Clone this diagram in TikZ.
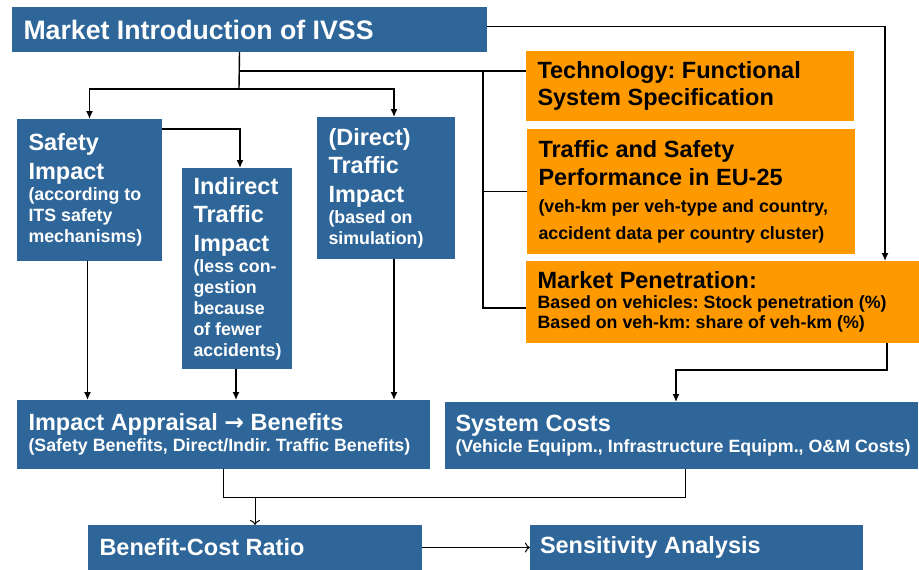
\documentclass[tikz,border=0pt]{standalone}
\usepackage{fontspec}
\setmainfont{Liberation Sans}
\newfontfamily\dejavu{DejaVu Sans}
\usetikzlibrary{arrows.meta}
\definecolor{boxblue}{HTML}{2E6699}
\definecolor{boxorange}{HTML}{FF9900}
\frenchspacing
\hyphenpenalty=10000
\exhyphenpenalty=10000
\newcommand\bigfs{\fontsize{23.5}{28.5}\selectfont}
\newcommand\smallfs{\fontsize{17.8}{21}\selectfont}
\newcommand\subtxt[1]{\par{\smallfs #1\par}}
\begin{document}
\begin{tikzpicture}[x=1pt,y=-1pt,
  box/.style={anchor=north west, inner xsep=11.5pt, inner ysep=0pt, align=flush left,
              font=\bfseries\bigfs, outer sep=0pt},
  bluebox/.style={box, fill=boxblue, text=white},
  orangebox/.style={box, fill=boxorange, text=black},
  conn/.style={line width=1.4pt, black},
  arr/.style={conn, -{Latex[length=8pt,width=7pt]}},
  oarr/.style={line width=1pt, black, -{To[length=5pt,width=10pt]}}
]
\useasboundingbox (0,0) rectangle (919,570);

% blue boxes
\node[bluebox, text width=452pt, minimum height=45pt, font=\bfseries\fontsize{26.7}{30}\selectfont] (intro) at (12,7) {Market Introduction of IVSS};
\node[bluebox, text width=122pt, minimum height=142pt] (safety) at (17,119)
  {Safety\\Impact\subtxt{(according to\\ITS safety\\mechanisms)}};
\node[bluebox, text width=87pt, minimum height=201pt] (indirect) at (182,168)
  {Indirect\\Traffic\\Impact\subtxt{(less con-\\gestion\\because\\of fewer\\accidents)}};
\node[bluebox, text width=115pt, minimum height=142pt] (direct) at (317,117)
  {(Direct)\\Traffic\\Impact\subtxt{(based on\\simulation)}};

% orange boxes
\node[orangebox, text width=305pt, minimum height=70pt, font=\bfseries\fontsize{23.5}{27}\selectfont] (tech) at (526,51)
  {Technology: Functional\\System Specification};
\node[orangebox, text width=305pt, minimum height=125pt, font=\bfseries\fontsize{23.5}{28}\selectfont] (traffic) at (527,129)
  {Traffic and Safety\\Performance in EU-25\par{\fontsize{17.8}{27}\selectfont (veh-km per veh-type and country,\\accident data per country cluster)\par}};
\node[orangebox, text width=370pt, minimum height=82pt] (penet) at (526,261)
  {Market Penetration:\par{\fontsize{17.8}{20}\selectfont Based on vehicles: Stock penetration (\%)\\Based on veh-km: share of veh-km (\%)\par}};

% bottom boxes
\node[bluebox, text width=390pt, minimum height=69pt] (impact) at (17,400)
  {Impact Appraisal {\dejavu\bfseries →} Benefits\subtxt{(Safety Benefits, Direct/Indir. Traffic Benefits)}};
\node[bluebox, text width=452pt, minimum height=67pt, inner xsep=10.5pt] (costs) at (445,402)
  {System Costs\subtxt{\mbox{(Vehicle Equipm., Infrastructure Equipm., O\&M Costs)}}};
\node[bluebox, text width=311pt, minimum height=45pt] (bcr) at (88,525) {Benefit-Cost Ratio};
\node[bluebox, text width=313pt, minimum height=45pt, inner xsep=10pt] (sens) at (530,525) {Sensitivity Analysis};

% junctions
\coordinate (j1) at (239,89);
\coordinate (j2) at (239,71);
\coordinate (j3) at (483,71);
\coordinate (j4) at (223.5,497);

% connectors from the top box
\draw[arr] ([yshift=3pt]intro.east) -| ([xshift=-34pt]penet.north east);
\draw[conn] ([xshift=-10pt]intro.south) -- (j1);
\draw[arr] (j1) -| (safety.north);
\draw[arr] (j1) -| ([xshift=8pt]direct.north);
\draw[conn] (j2) -- ([yshift=15pt]tech.west);
\draw[conn] (j3) |- ([yshift=-6pt]penet.west);
\draw[conn] (j3 |- traffic.west) -- (traffic.west);

% impacts
\draw[arr] ([yshift=-10pt]safety.north east) -| ([xshift=3pt]indirect.north);
\draw[arr] ([xshift=-2pt]safety.south) -- ([xshift=-2pt]safety.south |- impact.north);
\draw[arr] ([xshift=-1pt]indirect.south) -- ([xshift=-1pt]indirect.south |- impact.north);
\draw[arr] ([xshift=8pt]direct.south) -- ([xshift=8pt]direct.south |- impact.north);

% market penetration to costs
\draw[arr] ([xshift=-32pt]penet.south east) -- ++(0,27) -| ([xshift=-5.5pt]costs.north);

% benefits and costs to ratio
\draw[conn, line width=1pt] (impact.south) -- (j4) -| ([xshift=3.5pt]costs.south);
\draw[oarr] (bcr.north |- j4) -- (bcr.north);
\draw[oarr] (bcr.east) -- (sens.west);
\end{tikzpicture}
\end{document}
